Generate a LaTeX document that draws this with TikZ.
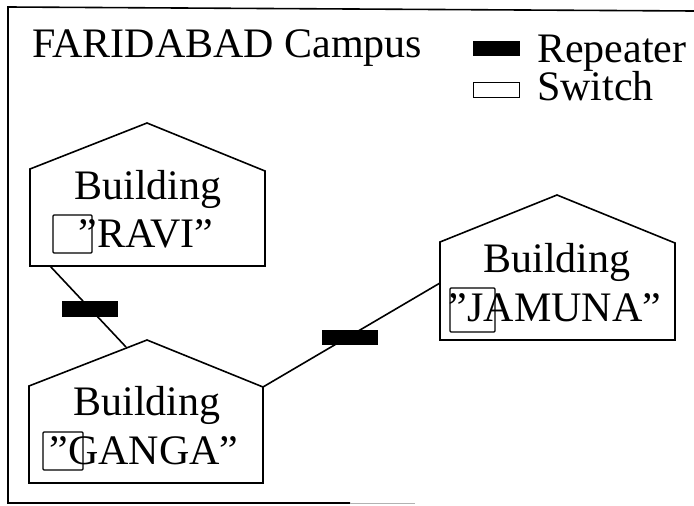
\documentclass[tikz,border=0pt]{standalone}
\usepackage{fontspec}
\setmainfont{Liberation Serif}
\begin{document}
\begin{tikzpicture}[x=1pt,y=-1pt,
  txt/.style={font=\fontsize{42}{48}\selectfont, inner sep=0pt, anchor=base},
  house/.style={line width=1.6pt, line join=miter},
  rep/.style={fill=black, draw=black, minimum width=52pt, minimum height=14pt, inner sep=0pt},
  sw/.style={draw, line width=1.4pt, inner sep=0pt, rounded corners=1pt},
  link/.style={line width=1.6pt}]
\useasboundingbox (0,0) rectangle (694,506);
% frame
\draw[line width=1.6pt] (694,11) -- (8,7) -- (8,503) -- (350,503);
\draw[line width=1pt, black!30] (350,503) -- (415,503);
% title and legend
\node[txt, anchor=base west] (title) at (32,57) {FARIDABAD Campus};
\node[rep, minimum width=46pt] (legrep) at (496,48) {};
\node[sw, line width=1pt, minimum width=46pt, minimum height=15pt, rounded corners=0pt] (legsw) at (496,89.5) {};
\node[txt, anchor=base west] (legreptxt) at (537,62) {Repeater};
\node[txt, anchor=base west] (legswtxt) at (537,100) {Switch};
% houses
\draw[house] (30,266) -- (30,169) -- (147,123) -- (265,171) -- (265,266) -- cycle;
\draw[house] (29,483) -- (29,386) -- (147,340) -- (263,387) -- (263,483) -- cycle;
\draw[house] (440,340) -- (440,242) -- (557,195) -- (675,243) -- (675,340) -- cycle;
% labels
\node[txt] (ravi1) at (148,199) {Building};
\node[txt] (ravi2) at (146,247) {”RAVI”};
\node[txt] (ganga1) at (147,415) {Building};
\node[txt] (ganga2) at (144,464) {”GANGA”};
\node[txt] (jam1) at (557,272) {Building};
\node[txt] (jam2) at (555,321) {”JAMUNA”};
% switches
\node[sw, minimum width=39pt, minimum height=38pt] (swravi) at (72.5,234) {};
\node[sw, minimum width=40pt, minimum height=38pt] (swganga) at (63,451) {};
\node[sw, minimum width=45pt, minimum height=44pt] (swjam) at (472.5,310) {};
% connection points
\coordinate (ravib) at (50,266);
\coordinate (gangaroof) at (126,347);
\coordinate (gangaeave) at (263,387);
\coordinate (jamwall) at (440,283);
% links
\draw[link] (ravib) -- (gangaroof);
\draw[link] (gangaeave) -- (jamwall);
% repeaters
\node[rep, minimum width=55pt, minimum height=15pt] (rep1) at (89.5,308.5) {};
\node[rep, minimum width=55pt, minimum height=14pt] (rep2) at (349.5,337) {};
\end{tikzpicture}
\end{document}
